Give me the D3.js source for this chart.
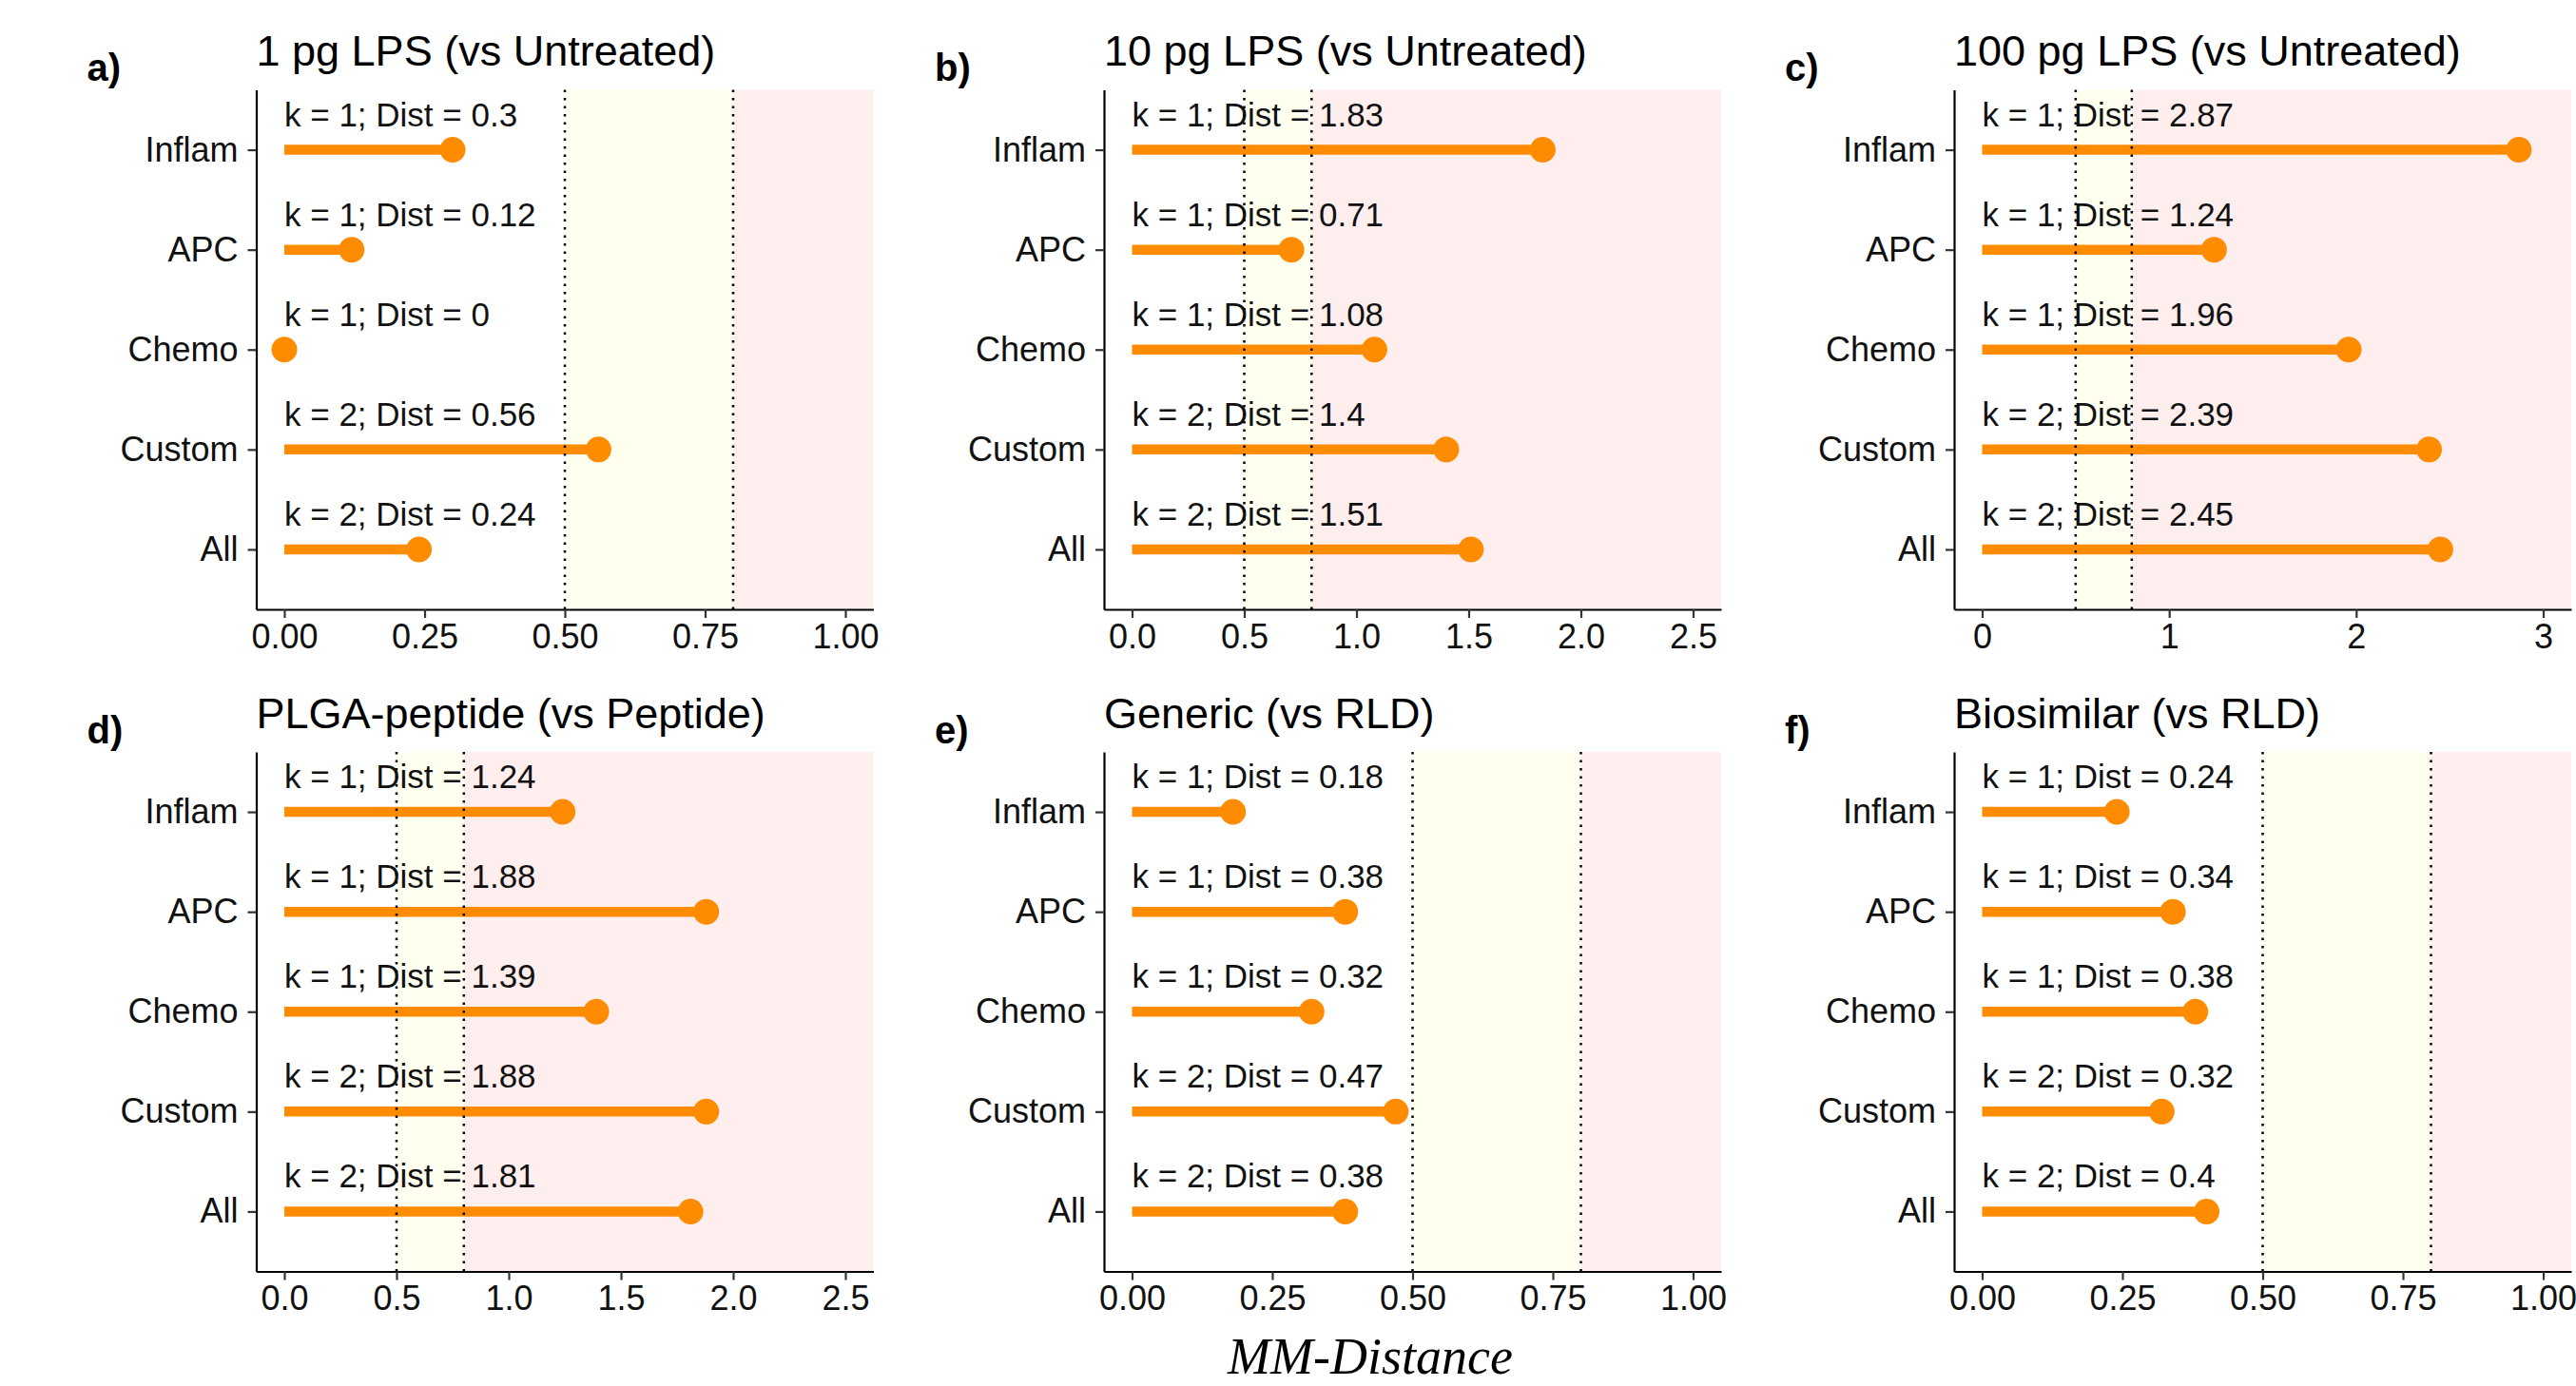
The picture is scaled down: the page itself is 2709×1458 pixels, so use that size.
<!DOCTYPE html>
<html>
<head>
<meta charset="utf-8">
<script src="https://cdn.jsdelivr.net/npm/d3@7"></script>
<style>
  html, body { margin: 0; padding: 0; background: #fff; }
  svg { display: block; }
</style>
</head>
<body>
<svg id="chart"></svg>
<script>
// data
const categories = ['Inflam', 'APC', 'Chemo', 'Custom', 'All'];
const kValues = [1, 1, 1, 2, 2];
const panelTags = ['a)', 'b)', 'c)', 'd)', 'e)', 'f)'];
const panelTitles = [
  '1 pg LPS (vs Untreated)',
  '10 pg LPS (vs Untreated)',
  '100 pg LPS (vs Untreated)',
  'PLGA-peptide (vs Peptide)',
  'Generic (vs RLD)',
  'Biosimilar (vs RLD)'
];
const dist1pg = [0.3, 0.12, 0, 0.56, 0.24];
const dist10pg = [1.83, 0.71, 1.08, 1.4, 1.51];
const dist100pg = [2.87, 1.24, 1.96, 2.39, 2.45];
const distPlga = [1.24, 1.88, 1.39, 1.88, 1.81];
const distGeneric = [0.18, 0.38, 0.32, 0.47, 0.38];
const distBiosimilar = [0.24, 0.34, 0.38, 0.32, 0.4];
const ticksUnit = [0, 0.25, 0.5, 0.75, 1];
const ticksHalf = [0, 0.5, 1, 1.5, 2, 2.5];
const ticksWhole = [0, 1, 2, 3];
const thresholds = [0.5, 0.8];
const xLabel = 'MM-Distance';

const panels = [
  { dist: dist1pg, ticks: ticksUnit, fmt: '.2f' },
  { dist: dist10pg, ticks: ticksHalf, fmt: '.1f' },
  { dist: dist100pg, ticks: ticksWhole, fmt: 'd' },
  { dist: distPlga, ticks: ticksHalf, fmt: '.1f' },
  { dist: distGeneric, ticks: ticksUnit, fmt: '.2f' },
  { dist: distBiosimilar, ticks: ticksUnit, fmt: '.2f' }
];

// layout
const svgWidth = 2709;
const svgHeight = 1458;
const plotW = 649;
const plotH = 546.5;
const colX = [269.5, 1161, 2055];
const rowY = [94.5, 791];
const font = '"Liberation Sans", Arial, sans-serif';
const orange = '#ff8c00';

const svg = d3.select('#chart')
  .attr('width', svgWidth)
  .attr('height', svgHeight)
  .style('font-family', font);

panels.forEach((p, i) => {
  const left = colX[i % 3];
  const top = rowY[Math.floor(i / 3)];
  const g = svg.append('g').attr('transform', `translate(${left}, ${top})`);

  const lo = d3.min(p.ticks), hi = d3.max(p.ticks);
  const pad = (hi - lo) * 0.05;
  const x = d3.scaleLinear().domain([lo - pad, hi + pad]).range([0, plotW]);
  const y = d3.scalePoint().domain(categories).range([0, plotH]).padding(0.6);

  // threshold bands
  g.append('rect')
    .attr('x', x(thresholds[0]))
    .attr('y', 0)
    .attr('width', x(thresholds[1]) - x(thresholds[0]))
    .attr('height', plotH)
    .attr('fill', '#fffff0');
  g.append('rect')
    .attr('x', x(thresholds[1]))
    .attr('y', 0)
    .attr('width', plotW - x(thresholds[1]))
    .attr('height', plotH)
    .attr('fill', '#ffeeee');

  const rows = categories.map((c, j) => ({ cat: c, k: kValues[j], v: p.dist[j] }));

  g.selectAll('.stick')
    .data(rows)
    .join('line')
    .attr('x1', x(0))
    .attr('x2', d => x(d.v))
    .attr('y1', d => y(d.cat))
    .attr('y2', d => y(d.cat))
    .attr('stroke', orange)
    .attr('stroke-width', 10.5);

  g.selectAll('.dot')
    .data(rows)
    .join('circle')
    .attr('cx', d => x(d.v))
    .attr('cy', d => y(d.cat))
    .attr('r', 13.5)
    .attr('fill', orange);

  g.selectAll('.lab')
    .data(rows)
    .join('text')
    .attr('x', x(0))
    .attr('y', d => y(d.cat) - 25)
    .attr('font-size', 35)
    .attr('fill', '#111')
    .text(d => `k = ${d.k}; Dist = ${d.v}`);

  // dotted threshold lines
  g.selectAll('.thr')
    .data(thresholds)
    .join('line')
    .attr('x1', d => x(d))
    .attr('x2', d => x(d))
    .attr('y1', 0)
    .attr('y2', plotH)
    .attr('stroke', '#000')
    .attr('stroke-width', 2.5)
    .attr('stroke-dasharray', '2.5 6');

  // axes
  const xAxis = g.append('g')
    .attr('transform', `translate(0, ${plotH})`)
    .call(d3.axisBottom(x).tickValues(p.ticks).tickFormat(d3.format(p.fmt))
      .tickSize(9).tickSizeOuter(0).tickPadding(6));
  const yAxis = g.append('g')
    .call(d3.axisLeft(y).tickSize(9).tickSizeOuter(0).tickPadding(10));

  [xAxis, yAxis].forEach(a => {
    a.select('.domain').attr('stroke', '#000').attr('stroke-width', 2.2);
    a.selectAll('.tick line').attr('stroke', '#333').attr('stroke-width', 2.2);
    a.selectAll('.tick text')
      .attr('font-family', font)
      .attr('font-size', 36)
      .attr('fill', '#111');
  });

  // title and tag
  g.append('text')
    .attr('x', 0)
    .attr('y', -25.5)
    .attr('font-size', 45)
    .attr('fill', '#000')
    .text(panelTitles[i]);
  g.append('text')
    .attr('x', -178)
    .attr('y', -9.5)
    .attr('font-size', 40)
    .attr('font-weight', 'bold')
    .attr('fill', '#000')
    .text(panelTags[i]);
});

svg.append('text')
  .attr('x', 1441)
  .attr('y', 1445)
  .attr('text-anchor', 'middle')
  .attr('font-family', '"Liberation Serif", "Times New Roman", serif')
  .attr('font-style', 'italic')
  .attr('font-size', 54)
  .attr('fill', '#000')
  .text(xLabel);
</script>
</body>
</html>
